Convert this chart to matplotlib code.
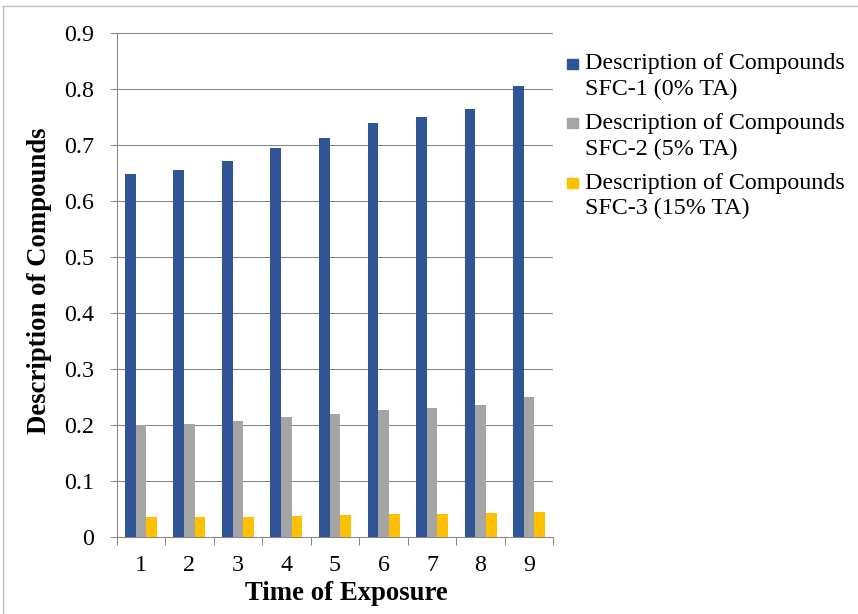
import numpy as np
import matplotlib.pyplot as plt
from matplotlib.patches import Rectangle
from matplotlib.lines import Line2D

plt.rcParams['font.family'] = ['Liberation Serif', 'DejaVu Serif']

times = [1, 2, 3, 4, 5, 6, 7, 8, 9]
sfc1 = [0.648, 0.655, 0.672, 0.696, 0.713, 0.739, 0.750, 0.764, 0.806]
sfc2 = [0.200, 0.202, 0.207, 0.214, 0.220, 0.228, 0.231, 0.236, 0.250]
sfc3 = [0.036, 0.036, 0.037, 0.038, 0.039, 0.041, 0.042, 0.043, 0.045]
labels = ["Description of Compounds\nSFC-1 (0% TA)",
          "Description of Compounds\nSFC-2 (5% TA)",
          "Description of Compounds\nSFC-3 (15% TA)"]
colors = ["#2F5597", "#A5A5A5", "#FFC000"]

W, H = 858, 614
fig = plt.figure(figsize=(W / 100, H / 100), dpi=100)
ax = fig.add_axes([116.7 / W, 1 - 537.3 / H, 436.6 / W, 504 / H])

x = np.arange(len(times))
w = 0.22
for i, (vals, c) in enumerate(zip([sfc1, sfc2, sfc3], colors)):
    ax.bar(x + (i - 1) * w, vals, width=w, color=c, zorder=3)

ax.set_xlim(-0.5, len(times) - 0.5)
ax.set_ylim(0, 0.9)
ax.set_yticks(np.arange(0, 0.91, 0.1))
ax.set_yticklabels(["0"] + [f"{v:.1f}" for v in np.arange(0.1, 0.91, 0.1)])
ax.set_xticks(x)
ax.set_xticklabels([str(t) for t in times])
ax.set_xticks(np.arange(-0.5, len(times), 1), minor=True)

fs = 17.3
ax.tick_params(axis='y', length=4.8, width=0.75, color='#868686', pad=11.5, labelsize=fs)
ax.tick_params(axis='x', which='major', length=0, pad=13, labelsize=fs)
ax.tick_params(axis='x', which='minor', length=5.8, width=0.75, color='#868686')

ax.grid(axis='y', color='#868686', linewidth=0.75, zorder=0)
for s in ['top', 'right']:
    ax.spines[s].set_visible(False)
for s in ['left', 'bottom']:
    ax.spines[s].set_color('#868686')
    ax.spines[s].set_linewidth(0.75)

ax.set_xlabel("Time of Exposure", fontsize=19.3, fontweight='bold')
ax.set_ylabel("Description of Compounds", fontsize=19.3, fontweight='bold')
ax.xaxis.set_label_coords(0.527, -(600 - 537.3) / 504, transform=ax.transAxes)
ax.xaxis.label.set_va('baseline')
ax.yaxis.set_label_coords(-(116.7 - 46.5) / 436.6, 0.51)
ax.yaxis.label.set_va('baseline')

# legend entries, square aligned with the first line of each label
for i, (lab, c) in enumerate(zip(labels, colors)):
    base = 69.5 + i * 59.5
    fig.patches.append(Rectangle((567 / W, 1 - (base - 1) / H), 11 / W, 10 / H,
                                 transform=fig.transFigure, color=c))
    for j, line in enumerate(lab.split("\n")):
        fig.text(585 / W, 1 - (base + j * 25.7) / H, line, fontsize=fs,
                 va='baseline', ha='left')

# outer chart border (top and left edges)
fig.add_artist(Line2D([3 / W, 1], [1 - 6 / H, 1 - 6 / H], transform=fig.transFigure,
                      color='#BFBFBF', linewidth=1))
fig.add_artist(Line2D([3 / W, 3 / W], [0, 1 - 6 / H], transform=fig.transFigure,
                      color='#BFBFBF', linewidth=1))

fig.savefig("out.png", dpi=100)
